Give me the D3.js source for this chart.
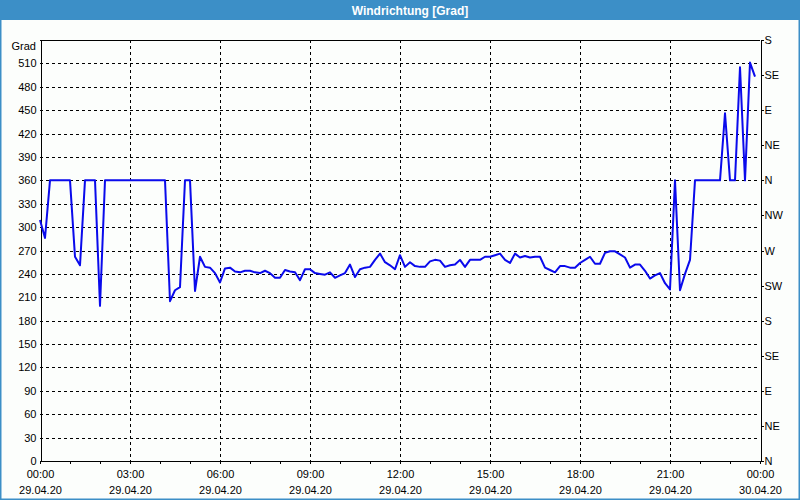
<!DOCTYPE html>
<html>
<head>
<meta charset="utf-8">
<script src="https://cdn.jsdelivr.net/npm/d3@7"></script>
<style>
  html, body { margin: 0; padding: 0; background: #fcfefc; }
  svg { display: block; }
  text { font-family: "Liberation Sans", Arial, sans-serif; font-size: 11px; fill: #000; }
</style>
</head>
<body>
<svg id="chart" width="800" height="500"></svg>
<script>
// ---- data ----
const title = "Windrichtung [Grad]";
const yUnit = "Grad";
const startTime = Date.UTC(2020, 3, 29, 0, 0);   // 29.04.20 00:00
const endTime = Date.UTC(2020, 3, 30, 0, 0);     // 30.04.20 00:00
const stepMinutes = 10;
// wind direction in degrees, one value every 10 minutes from 00:00
const directions = [
  309, 286, 360, 360, 360, 360, 360, 262, 251, 360,
  360, 360, 199, 360, 360, 360, 360, 360, 360, 360,
  360, 360, 360, 360, 360, 360, 205, 219, 223, 360,
  360, 218, 262, 249, 248, 241, 229, 247, 248, 243,
  242, 244, 244, 242, 241, 244, 241, 235, 235, 245,
  243, 242, 232, 246, 246, 241, 240, 239, 242, 235,
  238, 241, 252, 236, 246, 248, 249, 258, 266, 255,
  251, 246, 264, 249, 255, 250, 249, 249, 256, 258,
  257, 249, 251, 252, 258, 249, 258, 258, 258, 262,
  262, 264, 266, 258, 254, 266, 261, 263, 261, 262,
  262, 248, 245, 242, 250, 250, 248, 248, 254, 258,
  262, 253, 253, 267, 269, 269, 265, 261, 248, 252,
  252, 244, 234, 238, 241, 228, 220, 360, 219, 240,
  258, 360, 360, 360, 360, 360, 360, 446, 360, 360,
  505, 360, 511, 493
];
const leftTicks = [0, 30, 60, 90, 120, 150, 180, 210, 240, 270, 300, 330, 360, 390, 420, 450, 480, 510];
const rightTicks = [0, 45, 90, 135, 180, 225, 270, 315, 360, 405, 450, 495, 540];
const rightLabels = ["N", "NE", "E", "SE", "S", "SW", "W", "NW", "N", "NE", "E", "SE", "S"];
const yMax = 540;

// ---- layout ----
const W = 800, H = 500;
const plot = { left: 40, right: 760, top: 40, bottom: 461 };
const frameBlue = "#3c8fc7";

const svg = d3.select("#chart");

// background + frame
svg.append("rect").attr("x", 0).attr("y", 0).attr("width", W).attr("height", H).attr("fill", "#fcfefc");
svg.append("rect").attr("x", 0).attr("y", 0).attr("width", W).attr("height", 20).attr("fill", frameBlue);
svg.append("rect").attr("x", 0.75).attr("y", 0.75).attr("width", W - 1.5).attr("height", H - 1.5)
  .attr("fill", "none").attr("stroke", frameBlue).attr("stroke-width", 1.5);
svg.append("text").attr("x", 410).attr("y", 14.5).attr("text-anchor", "middle")
  .style("font-weight", "bold").style("font-size", "12px").style("fill", "#fff").text(title);

const data = directions.map((v, i) => ({ t: new Date(startTime + i * stepMinutes * 60000), v }));

const x = d3.scaleUtc().domain([new Date(startTime), new Date(endTime)]).range([plot.left, plot.right]);
const y = d3.scaleLinear().domain([0, yMax]).range([plot.bottom, plot.top]);

// grid
const grid = svg.append("g").attr("stroke", "#000").attr("stroke-width", 1).attr("stroke-dasharray", "3,3").attr("shape-rendering", "crispEdges");
grid.selectAll("line.h").data(leftTicks.filter(d => d > 0)).join("line")
  .attr("x1", plot.left).attr("x2", plot.right)
  .attr("y1", d => Math.round(y(d)) + 0.5).attr("y2", d => Math.round(y(d)) + 0.5);
const vTicks = d3.utcHour.every(3).range(new Date(startTime + 1), new Date(endTime));
grid.selectAll("line.v").data(vTicks).join("line")
  .attr("x1", d => Math.round(x(d)) + 0.5).attr("x2", d => Math.round(x(d)) + 0.5)
  .attr("y1", plot.top).attr("y2", plot.bottom);

// frame lines of plot
svg.append("line").attr("x1", plot.left).attr("x2", plot.right).attr("y1", plot.top + 0.5).attr("y2", plot.top + 0.5)
  .attr("stroke", "#000").attr("shape-rendering", "crispEdges");

// minor x ticks
const xMinor = d3.axisBottom(x).ticks(d3.utcHour.every(1)).tickFormat("").tickSize(3).tickSizeOuter(0);
svg.append("g").attr("transform", `translate(0,${plot.bottom - 0.5})`).call(xMinor)
  .call(g => g.select(".domain").remove())
  .call(g => g.selectAll("line").attr("shape-rendering", "crispEdges"));

// major x axis with two-line labels
const fmtTime = d3.utcFormat("%H:%M");
const fmtDate = d3.utcFormat("%d.%m.%y");
const xAxis = d3.axisBottom(x).ticks(d3.utcHour.every(3)).tickSize(3).tickSizeOuter(0).tickPadding(5);
const gx = svg.append("g").attr("transform", `translate(0,${plot.bottom - 0.5})`).call(xAxis);
gx.select(".domain").attr("shape-rendering", "crispEdges");
gx.selectAll("line").attr("shape-rendering", "crispEdges");
gx.selectAll(".tick text").each(function(d) {
  const t = d3.select(this);
  t.text(null).attr("y", 0).attr("dy", null);
  t.append("tspan").attr("x", 0).attr("y", 17).text(fmtTime(d));
  t.append("tspan").attr("x", 0).attr("y", 33).text(fmtDate(d));
});
gx.selectAll("text").style("font-family", "Liberation Sans, Arial, sans-serif").style("font-size", "11px");

// left axis
const yAxis = d3.axisLeft(y).tickValues(leftTicks).tickSize(0).tickSizeOuter(0).tickPadding(4);
const gy = svg.append("g").attr("transform", `translate(${plot.left + 0.5},0)`).call(yAxis);
gy.select(".domain").attr("shape-rendering", "crispEdges");
gy.selectAll("text").style("font-family", "Liberation Sans, Arial, sans-serif").style("font-size", "11px");
svg.append("text").attr("x", 36).attr("y", 50).attr("text-anchor", "end").text(yUnit);

// right axis
const yRight = d3.axisRight(y).tickValues(rightTicks).tickFormat((d, i) => rightLabels[i]).tickSize(3).tickSizeOuter(0).tickPadding(1);
const gr = svg.append("g").attr("transform", `translate(${plot.right + 0.5},0)`).call(yRight);
gr.select(".domain").attr("shape-rendering", "crispEdges");
gr.selectAll("line").attr("shape-rendering", "crispEdges");
gr.selectAll("text").style("font-family", "Liberation Sans, Arial, sans-serif").style("font-size", "11px");

// line
const line = d3.line().x(d => x(d.t)).y(d => y(d.v));
svg.append("path").datum(data).attr("d", line)
  .attr("fill", "none").attr("stroke", "#0a0aec").attr("stroke-width", 2)
  .attr("stroke-linejoin", "round");
</script>
</body>
</html>
